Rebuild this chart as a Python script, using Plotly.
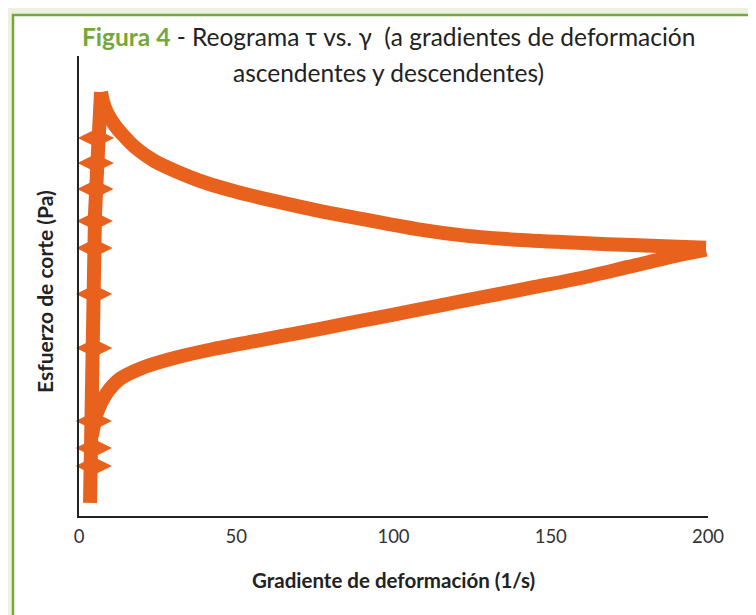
import plotly.graph_objects as go

# ---- data (shear rate in 1/s, shear stress in arbitrary Pa units) ----
x_ticks = [0, 50, 100, 150, 200]
x_ticklabels = ["0", "50", "100", "150", "200"]

# low-shear vertical stretch (rising stress)
vert_x = [3.50, 3.66, 3.82, 5.09, 6.04, 7.00, 7.00]
vert_y = [2.83, 20.65, 43.91, 65.65, 79.35, 85.87, 92.17]

# spikes on the vertical stretch
spike_x = [5.4, 5.3, 5.2, 5.0, 4.9, 4.8, 4.8, 4.7, 4.7, 4.7]
spike_y = [82.17, 76.74, 71.09, 64.13, 58.26, 48.26, 36.52, 20.65, 14.78, 10.87]

# upper branch (from peak to max shear rate)
up_x = [7.00, 7.63, 8.90, 11.10, 14.00, 18.10, 23.90, 31.0, 40.0, 50.0, 62.0, 76.0,
        92.0, 108.0, 122.0, 136.0, 152.0, 168.0, 184.0, 199.36]
up_y = [92.17, 90.10, 87.70, 85.20, 82.80, 80.00, 77.20, 74.90, 72.50, 70.50, 68.50, 66.40,
        64.30, 62.30, 61.00, 60.20, 59.60, 59.10, 58.70, 58.30]

# lower branch (from max shear rate back)
low_x = [199.36, 190.0, 175.0, 160.0, 145.0, 130.0, 115.0, 100.0, 85.0, 70.0, 55.0,
         42.0, 30.0, 20.0, 13.0, 8.6, 5.7, 4.1]
low_y = [57.90, 56.60, 54.20, 51.80, 49.80, 47.80, 45.80, 43.80, 41.80, 39.80, 37.90,
         36.20, 34.30, 32.20, 29.80, 26.50, 22.40, 17.40]

ORANGE = "#E8621D"
GREEN = "#74A83B"
LW = 14

fig = go.Figure()
fig.add_trace(go.Scatter(x=low_x, y=low_y, mode="lines",
                         line=dict(color=ORANGE, width=LW, shape="spline", smoothing=0.8),
                         cliponaxis=False, showlegend=False, hoverinfo="skip"))
fig.add_trace(go.Scatter(x=vert_x, y=vert_y, mode="lines", line=dict(color=ORANGE, width=LW),
                         cliponaxis=False, showlegend=False, hoverinfo="skip"))
fig.add_trace(go.Scatter(x=up_x, y=up_y, mode="lines",
                         line=dict(color=ORANGE, width=LW, shape="spline", smoothing=0.8),
                         cliponaxis=False, showlegend=False, hoverinfo="skip"))
fig.add_trace(go.Scatter(x=spike_x, y=spike_y, mode="markers",
                         marker=dict(symbol="diamond-wide", size=26, color=ORANGE, line=dict(width=0)),
                         cliponaxis=False, showlegend=False, hoverinfo="skip"))

FONT = "Lato"
L, R, T, B = 71, 56, 48, 107
W, H = 756, 615
pw, ph = W - L - R, H - T - B

def px(xp):
    return (xp - L) / pw

def py(yp):
    return (H - B - yp) / ph

fig.add_shape(type="rect", xref="paper", yref="paper",
              x0=px(5), x1=px(751), y0=py(640), y1=py(7),
              fillcolor="white", line=dict(color=GREEN, width=2.5), layer="below")

fig.add_annotation(xref="paper", yref="paper", x=px(380), y=py(29), xanchor="center", yanchor="middle",
                   showarrow=False, font=dict(family=FONT, size=24.5, color="#222"),
                   text="<span style='color:%s'><b>Figura 4</b></span> - Reograma τ vs. γ \u00a0(a gradientes de deformación" % GREEN)
fig.add_annotation(xref="paper", yref="paper", x=px(380), y=py(64), xanchor="center", yanchor="middle",
                   showarrow=False, font=dict(family=FONT, size=24.5, color="#222"),
                   text="ascendentes y descendentes)")
fig.add_annotation(xref="paper", yref="paper", x=px(386), y=py(572), xanchor="center", yanchor="middle",
                   showarrow=False, font=dict(family=FONT, size=20.5, color="#222"),
                   text="<b>Gradiente de deformación (1/s)</b>")
fig.add_annotation(xref="paper", yref="paper", x=px(36), y=py(284), xanchor="center", yanchor="middle",
                   showarrow=False, textangle=-90, font=dict(family=FONT, size=21, color="#222"),
                   text="<b>Esfuerzo de corte (Pa)</b>")

fig.update_layout(
    width=W, height=H, autosize=False,
    margin=dict(l=L, r=R, t=T, b=B, pad=0),
    paper_bgcolor="#EEF1E1", plot_bgcolor="white",
    font=dict(family=FONT),
    xaxis=dict(range=[0, 200], tickvals=x_ticks, ticktext=x_ticklabels, showgrid=False, zeroline=False,
               showline=True, linecolor="#222", linewidth=2, ticks="", ticklabelstandoff=3,
               tickfont=dict(family=FONT, size=18.5, color="#333"), fixedrange=True),
    yaxis=dict(range=[0, 100], showticklabels=False, showgrid=False, zeroline=False,
               showline=True, linecolor="#222", linewidth=2, ticks="", fixedrange=True),
)

fig.write_html("out.html")
